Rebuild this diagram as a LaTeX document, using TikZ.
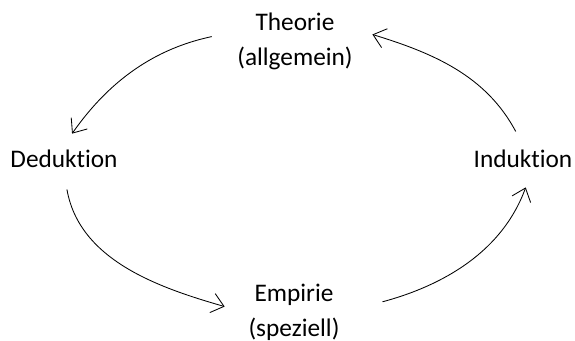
\documentclass[tikz,border=0pt]{standalone}
\usepackage{fontspec}
\setmainfont{Carlito}[Ligatures=NoCommon]
\usetikzlibrary{arrows.meta}
\begin{document}
\begin{tikzpicture}[x=0.025cm,y=0.025cm,
  every node/.style={font=\fontsize{18}{25}\selectfont,align=center},
  pfeil/.style={-{Straight Barb[length=8.5pt,width=14pt]},line width=0.6pt}]
\useasboundingbox (0,0) rectangle (575,-341);
\node (theorie) at (295,-41) {Theorie\\(allgemein)};
\node (deduktion) at (64,-159) {Deduktion};
\node (induktion) at (523,-159) {Induktion};
\node (empirie) at (294,-312) {Empirie\\(speziell)};

\draw[pfeil,shorten <=15pt,shorten >=10pt] (theorie.172) to[out=192,in=55] (deduktion.north);
\draw[pfeil,shorten <=11pt,shorten >=11pt] (induktion.north) to[out=118,in=343] (theorie.10);
\draw[pfeil,shorten <=12pt,shorten >=14pt] (deduktion.south) to[out=-80,in=164] (empirie.west);
\draw[pfeil,shorten <=28pt,shorten >=11pt] (empirie.east) to[out=15,in=250] (induktion.-60);
\end{tikzpicture}
\end{document}
